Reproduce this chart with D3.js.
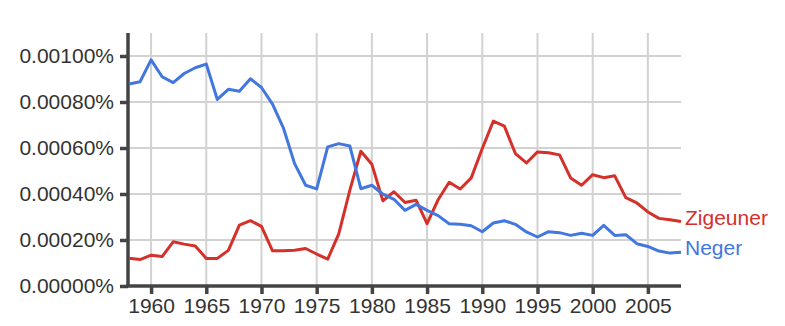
<!DOCTYPE html>
<html>
<head>
<meta charset="utf-8">
<script src="https://cdn.jsdelivr.net/npm/d3@7"></script>
<style>
  body { margin: 0; background: #fff; }
  text { font-family: "Liberation Sans", Arial, Helvetica, sans-serif; }
</style>
</head>
<body>
<svg id="chart" width="785" height="326"></svg>
<script>
const years = d3.range(1958, 2009);

// values in percent
const zigeuner = [
  0.000121, 0.000115, 0.000134, 0.000128, 0.000192, 0.000182, 0.000174, 0.000120, 0.000120, 0.000155,
  0.000265, 0.000284, 0.000259, 0.000153, 0.000153, 0.000155, 0.000163, 0.000139, 0.000117, 0.000227,
  0.000416, 0.000586, 0.000529, 0.000370, 0.000410, 0.000363, 0.000373, 0.000271, 0.000375, 0.000451,
  0.000422, 0.000470, 0.000598, 0.000717, 0.000695, 0.000576, 0.000535, 0.000583, 0.000579, 0.000570,
  0.000470, 0.000438, 0.000484, 0.000471, 0.000479, 0.000384, 0.000361, 0.000322, 0.000294, 0.000288,
  0.000280
];
const neger = [
  0.000878, 0.000888, 0.000983, 0.000910, 0.000884, 0.000924, 0.000949, 0.000965, 0.000811, 0.000855,
  0.000847, 0.000901, 0.000863, 0.000791, 0.000685, 0.000532, 0.000438, 0.000422, 0.000605, 0.000619,
  0.000609, 0.000423, 0.000438, 0.000399, 0.000377, 0.000329, 0.000355, 0.000329, 0.000306, 0.000271,
  0.000268, 0.000262, 0.000236, 0.000274, 0.000284, 0.000268, 0.000235, 0.000213, 0.000236, 0.000232,
  0.000220, 0.000229, 0.000220, 0.000264, 0.000220, 0.000223, 0.000184, 0.000172, 0.000152, 0.000143,
  0.000147
];

const seriesNames = ["Zigeuner", "Neger"];
const seriesColors = ["#d5302a", "#4277e0"];
const xTicks = [1960, 1965, 1970, 1975, 1980, 1985, 1990, 1995, 2000, 2005];
const yTicks = [0, 0.0002, 0.0004, 0.0006, 0.0008, 0.001];

const series = [zigeuner, neger].map((vals, i) => ({
  name: seriesNames[i],
  color: seriesColors[i],
  values: vals.map((v, j) => ({ year: years[j], value: v }))
}));

const x = d3.scaleLinear().domain([1958, 2008]).range([129, 681]);
const y = d3.scaleLinear().domain([0, 0.0011]).range([286, 33]);

const svg = d3.select("#chart");

// grid
svg.append("g")
  .selectAll("line")
  .data(xTicks)
  .enter()
  .append("line")
  .attr("x1", d => x(d)).attr("x2", d => x(d))
  .attr("y1", y(0.0011)).attr("y2", y(0))
  .attr("stroke", "#d2d2d2")
  .attr("stroke-width", 2);

svg.append("g")
  .selectAll("line")
  .data(yTicks.filter(d => d > 0))
  .enter()
  .append("line")
  .attr("x1", x(1958)).attr("x2", x(2008))
  .attr("y1", d => y(d)).attr("y2", d => y(d))
  .attr("stroke", "#d2d2d2")
  .attr("stroke-width", 2);

// axes
const yAxis = svg.append("g")
  .attr("transform", `translate(${x(1958) - 1},0)`)
  .call(d3.axisLeft(y).tickValues(yTicks).tickSize(8).tickPadding(6)
    .tickFormat(d => d.toFixed(5) + "%"));

const xAxis = svg.append("g")
  .attr("transform", `translate(0,${y(0)})`)
  .call(d3.axisBottom(x).tickValues(xTicks).tickSize(8).tickPadding(4)
    .tickFormat(d3.format("d")));

[yAxis, xAxis].forEach(ax => {
  ax.select(".domain").attr("stroke", "#444").attr("stroke-width", 3.5);
  ax.selectAll(".tick line").attr("stroke", "#444").attr("stroke-width", 3.5);
  ax.selectAll(".tick text")
    .attr("fill", "#333")
    .style("font-size", "21px");
});
yAxis.select(".domain").attr("d", `M0,${y(0.0011)}V${y(0)}`);
xAxis.select(".domain").attr("d", `M${x(1958) - 3},0H${x(2008)}`);

// lines
const line = d3.line()
  .x(d => x(d.year))
  .y(d => y(d.value));

svg.append("g")
  .selectAll("path")
  .data(series)
  .enter()
  .append("path")
  .attr("d", d => line(d.values))
  .attr("fill", "none")
  .attr("stroke", d => d.color)
  .attr("stroke-width", 3)
  .attr("stroke-linejoin", "round");

// labels at line ends
svg.append("g")
  .selectAll("text")
  .data(series)
  .enter()
  .append("text")
  .attr("x", x(2008) + 4)
  .attr("y", d => y(d.values[d.values.length - 1].value) + 3)
  .attr("fill", d => d.color)
  .style("font-size", "21px")
  .text(d => d.name);
</script>
</body>
</html>
